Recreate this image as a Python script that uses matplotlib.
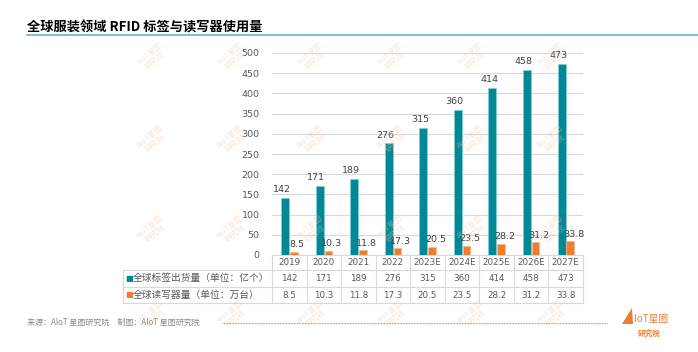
import matplotlib.pyplot as plt
import numpy as np

plt.rcParams['font.family'] = ['Noto Sans CJK SC', 'DejaVu Sans']

# 数据
years = ['2019', '2020', '2021', '2022', '2023E', '2024E', '2025E', '2026E', '2027E']
tags = [142, 171, 189, 276, 315, 360, 414, 458, 473]
readers = [8.5, 10.3, 11.8, 17.3, 20.5, 23.5, 28.2, 31.2, 33.8]
row_labels = ['全球标签出货量（单位：亿个）', '全球读写器量（单位：万台）']
yticks = [0, 50, 100, 150, 200, 250, 300, 350, 400, 450, 500]

TEAL = '#048896'
ORANGE = '#ED7D31'
GRID = '#D9D9D9'
TXT = '#595959'

W, H = 698, 352
fig = plt.figure(figsize=(W / 100, H / 100), dpi=100)


def fx(px):
    return px / W


def fy(py):
    return 1 - py / H


# 水印
for wx in [153, 233, 313, 393, 473, 553]:
    for wy in [57, 140, 230, 315]:
        fig.text(fx(wx), fy(wy), 'AIoT星图\n研究院', color='#F9C9A3', alpha=0.45,
                 fontsize=5.5, rotation=40, ha='center', va='center',
                 linespacing=1.0, zorder=0)

# 标题
fig.text(fx(27), fy(28), '全球服装领域 RFID 标签与读写器使用量', fontsize=9.5,
         fontweight='bold', color='black', ha='left', va='center')
fig.add_artist(plt.Line2D([fx(27), 1], [fy(35), fy(35)], color='#5BB8C8', lw=1.2))

ax = fig.add_axes([fx(272), fy(255), fx(583) - fx(272), fy(53) - fy(255)])
ax.patch.set_alpha(0)
x = np.arange(len(years))
bw = 0.23
ax.bar(x - 0.12, tags, width=bw, color=TEAL, edgecolor='#7FD0DA', linewidth=0.5, zorder=3)
ax.bar(x + 0.13, readers, width=bw * 0.95, color=ORANGE, edgecolor='#F6B88A', linewidth=0.5, zorder=3)

for i in range(len(years)):
    ax.text(x[i] - 0.12 - 0.1, tags[i] + 9, f'{tags[i]:g}', ha='center', va='bottom',
            fontsize=6.8, color='#404040', family='DejaVu Sans')
    ax.text(x[i] + 0.13 + 0.1, readers[i] + 6, f'{readers[i]:g}', ha='center', va='bottom',
            fontsize=6.8, color='#404040', family='DejaVu Sans')

ax.set_xlim(-0.5, len(years) - 0.5)
ax.set_ylim(0, 500)
ax.set_yticks(yticks)
ax.set_yticklabels([str(v) for v in yticks], fontsize=6.8, color=TXT, family='DejaVu Sans')
ax.set_xticks([])
ax.tick_params(axis='y', length=0, pad=9)
ax.yaxis.grid(True, color=GRID, lw=0.8, zorder=0)
for s in ax.spines.values():
    s.set_visible(False)

# 数据表
ah = 255 - 53
cw = (583 - 272) / len(years)


def ay(py):
    return -(py - 255) / ah


x_left = -0.5 - (272 - 123) / cw
tr = ax.get_xaxis_transform()
ax.plot([-0.5, len(years) - 0.5], [ay(255), ay(255)], color=GRID, lw=0.8,
        clip_on=False, transform=tr)
for py in [270, 287, 303]:
    ax.plot([x_left, len(years) - 0.5], [ay(py), ay(py)], color=GRID, lw=0.8,
            clip_on=False, transform=tr)
for i in range(len(years) + 1):
    ax.plot([i - 0.5, i - 0.5], [ay(255), ay(303)], color=GRID, lw=0.8,
            clip_on=False, transform=tr)
ax.plot([x_left, x_left], [ay(270), ay(303)], color=GRID, lw=0.8,
        clip_on=False, transform=tr)

for i, yr in enumerate(years):
    ax.text(x[i], ay(262.5), yr, ha='center', va='center', fontsize=6.3,
            color=TXT, family='DejaVu Sans', transform=tr)
    ax.text(x[i], ay(278.5), f'{tags[i]:g}', ha='center', va='center', fontsize=6.3,
            color=TXT, family='DejaVu Sans', transform=tr)
    ax.text(x[i], ay(295), f'{readers[i]:g}', ha='center', va='center', fontsize=6.3,
            color=TXT, family='DejaVu Sans', transform=tr)

for lab, col, py in zip(row_labels, [TEAL, ORANGE], [278.5, 295]):
    fig.text(fx(125), fy(py), '■', color=col, fontsize=6, ha='left', va='center',
             family='DejaVu Sans')
    fig.text(fx(133), fy(py), lab, color=TXT, fontsize=7, ha='left', va='center')

# 脚注
fig.text(fx(27), fy(322), '来源：AIoT 星图研究院　制图：AIoT 星图研究院', fontsize=5.8,
         color='#8C8C8C', ha='left', va='center')
fig.add_artist(plt.Line2D([fx(222), fx(607)], [fy(323), fy(323)], color='#7F7F7F',
                          lw=0.8, linestyle=(0, (0.6, 0.8))))
fig.add_artist(plt.Polygon([[fx(622), fy(324)], [fx(632), fy(308)], [fx(633), fy(324)]],
                           closed=True, color=ORANGE, lw=0))
fig.text(fx(634), fy(319), 'IoT星图', color=ORANGE, fontsize=7, ha='left', va='center')
fig.text(fx(649), fy(333), '研究院', color=ORANGE, fontsize=5.5, ha='center', va='center',
         fontweight='bold')

fig.savefig('out.png', dpi=100)
